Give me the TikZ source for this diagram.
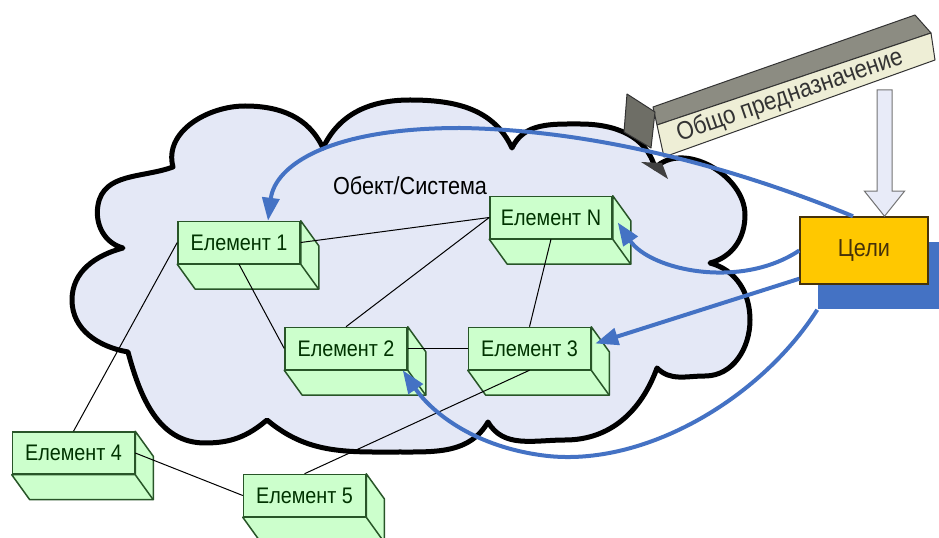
\documentclass[tikz,border=0pt]{standalone}
\usepackage{fontspec}
\setmainfont{Liberation Sans}[FakeStretch=0.88]
\usetikzlibrary{positioning,arrows.meta,shadows}

\definecolor{cloudfill}{RGB}{228,232,246}
\definecolor{elemfill}{RGB}{204,255,204}
\definecolor{elemline}{RGB}{40,85,40}
\definecolor{goalfill}{RGB}{255,200,0}
\definecolor{goalline}{RGB}{70,50,10}
\definecolor{linkblue}{RGB}{68,114,196}
\definecolor{beamtop}{RGB}{140,140,130}
\definecolor{beamfront}{RGB}{238,238,214}
\definecolor{beamhead}{RGB}{110,110,102}
\definecolor{downfill}{RGB}{232,235,248}

\tikzset{
  elem/.style={draw=elemline, fill=elemfill, line width=0.3mm, minimum width=24.4mm,
    minimum height=8.4mm, inner sep=0pt, text=black!80!green,
    font=\fontsize{12.8}{15}\selectfont},
  extr/.style={draw=elemline, fill=elemfill, line width=0.3mm, line join=round},
  goal/.style={draw=goalline, fill=goalfill, line width=0.3mm, minimum width=25.6mm,
    minimum height=13.4mm, text=goalline, font=\fontsize{14}{16}\selectfont,
    drop shadow={shadow xshift=3.6mm, shadow yshift=-5mm, fill=linkblue, opacity=1}},
  cloudline/.style={draw=black, fill=cloudfill, line width=1mm, line join=round},
  beam/.style={draw=black!80, line width=0.2mm, line join=round},
  link/.style={line width=0.2mm},
  aim/.style={draw=linkblue, line width=0.8mm, -{Triangle[length=4.6mm,width=3.4mm]}},
}
\newcommand{\extrude}[1]{%
  \draw[extr] (#1.north east) -- ++(18,25) -- ([shift={(18,25)}]#1.south east)
    -- ([shift={(18,25)}]#1.south west) -- (#1.south west) -- (#1.south east) -- cycle;
  \draw[extr] (#1.south east) -- ++(18,25);}

\begin{document}
\begin{tikzpicture}[x=0.2mm,y=-0.2mm]
  \useasboundingbox (0,0) rectangle (939,538);
  % the cloud
  \draw[cloudline] (173,167) to[out=105,in=180] (245,106) to[out=0,in=115] (323,148)
    to[out=65,in=180] (410,100) to[out=0,in=115] (512,148)
    to[out=65,in=180] (580,124) to[out=0,in=105] (655,168)
    to[out=45,in=90] (745,215) to[out=-90,in=15] (710,263)
    to[out=-15,in=90] (750,320) to[out=-90,in=0] (705,376) to[out=180,in=-45] (657,368)
    to[out=-110,in=0] (565,440) to[out=180,in=-60] (488,422)
    to[out=-120,in=0] (400,452) to[out=180,in=-40] (267,420)
    to[out=-140,in=0] (205,443) to[out=180,in=-75] (128,352)
    to[out=170,in=-90] (72,300) to[out=90,in=195] (123,248)
    to[out=165,in=-100] (98,205) to[out=80,in=200] cycle;
  \node[font=\fontsize{14}{16}\selectfont] (sys) at (410,186) {Обект/Система};

  % elements
  \node[elem] (e1) at (239,242.5) {Елемент 1};
  \node[elem] (en) at (551,217.5) {Елемент N};
  \node[elem] (e2) at (346,348.5) {Елемент 2};
  \node[elem, right=12mm of e2] (e3) {Елемент 3};
  \node[elem] (e4) at (73.5,453) {Елемент 4};
  \node[elem] (e5) at (304.5,495.5) {Елемент 5};
  \foreach \n in {e1,en,e2,e3,e4,e5} {\extrude{\n}}

  \draw[link] (e1.east) -- (en.west);
  \draw[link] (e1.south) -- (e2.west);
  \draw[link] (en.west) -- (e2.north);
  \draw[link] (en.south) -- (e3.north);
  \draw[link] (e2.east) -- (e3.west);
  \draw[link] (e1.west) -- (e4.north);
  \draw[link] (e4.east) -- (e5.west);
  \draw[link] (e3.south) -- (e5.north);

  % general purpose beam
  \draw[beam, fill=beamtop] (653,107) -- (915,15) -- (931,33) -- (657,125) -- cycle;
  \draw[beam, fill=beamfront] (657,125) -- (931,33) -- (935,60) -- (664,157) -- cycle;
  \draw[beam, fill=beamhead] (627,94) -- (655,112) -- (651,148) -- (624,132) -- cycle;
  \fill[black!75] (641,162) -- (668,179) -- (662,163) -- cycle;
  \node[rotate=19, text=black!80, font=\fontsize{14.5}{16}\selectfont] (purpose) at (790,96)
    {Общо предназначение};

  % goals
  \node[goal] (goal) at (864,250.5) {Цели};
  \coordinate (downtop) at (884.5,90);
  \coordinate (downtip) at (goal.north -| downtop);
  \draw[draw=black!55, fill=downfill, line width=0.2mm]
    ([xshift=-1.5mm]downtop) -- ([xshift=1.5mm]downtop)
    -- ([xshift=1.5mm,yshift=5mm]downtip) -- ([xshift=4mm,yshift=5mm]downtip)
    -- (downtip) -- ([xshift=-4mm,yshift=5mm]downtip)
    -- ([xshift=-1.5mm,yshift=5mm]downtip) -- cycle;

  \draw[aim] ([xshift=-2.2mm]goal.north) .. controls (740,170) and (600,130) .. (460,128)
    .. controls (330,128) and (275,165) .. ([xshift=5.8mm]e1.north);
  \draw[aim] (goal.west) .. controls (740,290) and (650,270) .. ([shift={(5,5)}]en.east);
  \draw[aim] ([yshift=1.2mm]goal.south west) -- ([xshift=0.8mm,yshift=1mm]e3.east);
  \draw[aim] ([shift={(18,25)}]goal.south west) .. controls (760,400) and (640,470) .. (540,455)
    .. controls (470,445) and (430,410) .. ([xshift=-1mm]e2.south east);
\end{tikzpicture}
\end{document}
